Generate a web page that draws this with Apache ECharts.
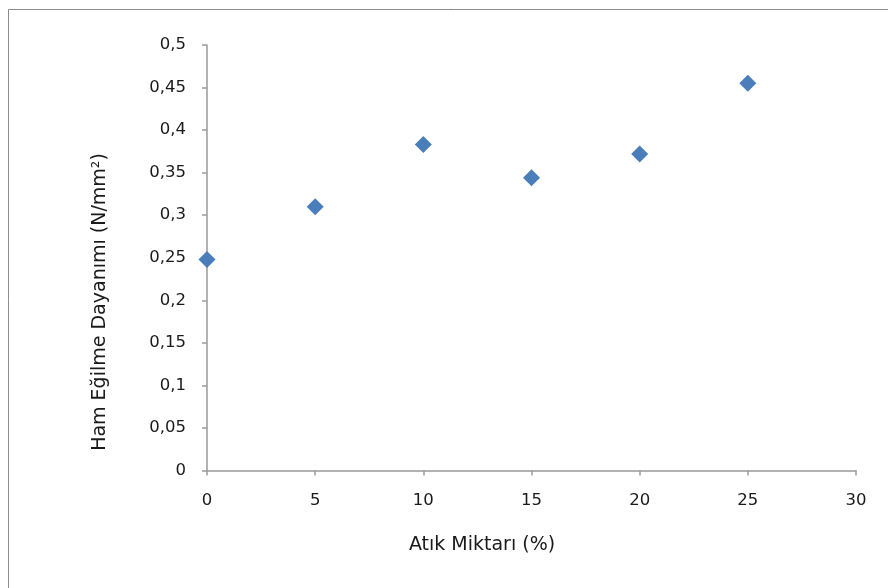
<!DOCTYPE html>
<html><head><meta charset="utf-8">
<script src="https://cdn.jsdelivr.net/npm/echarts@6/dist/echarts.min.js"></script>
<style>html,body{margin:0;padding:0;background:#fff}#c{width:888px;height:588px}</style>
</head><body><div id="c"></div>
<script>
const xValues = [0, 5, 10, 15, 20, 25];
const yValues = [0.248, 0.31, 0.383, 0.344, 0.372, 0.455];
const xTitle = 'Atık Miktarı (%)';
const yTitle = 'Ham Eğilme Dayanımı (N/mm²)';

const chart = echarts.init(document.getElementById('c'));
const fmt = v => String(+v.toFixed(2)).replace('.', ',');
const axisLine = {lineStyle:{color:'#9a9a9a', width:1.5}};
const fam = 'DejaVu Sans';
const font = {fontFamily:fam, fontSize:16.5, color:'#1a1a1a'};
chart.setOption({
  animation:false,
  graphic:[
    {type:'rect', shape:{x:8.5,y:9.5,width:900,height:600}, style:{fill:'none', stroke:'#8c8c8c', lineWidth:1}, silent:true},
    {type:'text', x:482, y:545, style:{text:xTitle, font:'19px "'+fam+'"', fill:'#1a1a1a', textAlign:'center', textVerticalAlign:'middle'}},
    {type:'text', x:100, y:302, rotation:Math.PI/2, style:{text:yTitle, font:'19px "'+fam+'"', fill:'#1a1a1a', textAlign:'center', textVerticalAlign:'middle'}}
  ],
  grid:{left:207, top:45, right:32, bottom:117.5},
  xAxis:{type:'value', min:0, max:30, interval:5,
    axisLine:Object.assign({onZero:false}, axisLine), axisTick:{show:true, length:5, lineStyle:{color:'#9a9a9a', width:1.5}},
    splitLine:{show:false}, axisLabel:Object.assign({margin:22}, font)},
  yAxis:{type:'value', min:0, max:0.5, interval:0.05,
    axisLine:axisLine, axisTick:{show:true, length:5, lineStyle:{color:'#9a9a9a', width:1.5}},
    splitLine:{show:false}, axisLabel:Object.assign({margin:21, formatter:fmt}, font)},
  series:[{type:'scatter', data:xValues.map((x,i)=>[x,yValues[i]]), symbol:'diamond', symbolSize:[17,17],
    itemStyle:{color:'#4a7ebb', opacity:1}}]
});
</script></body></html>
